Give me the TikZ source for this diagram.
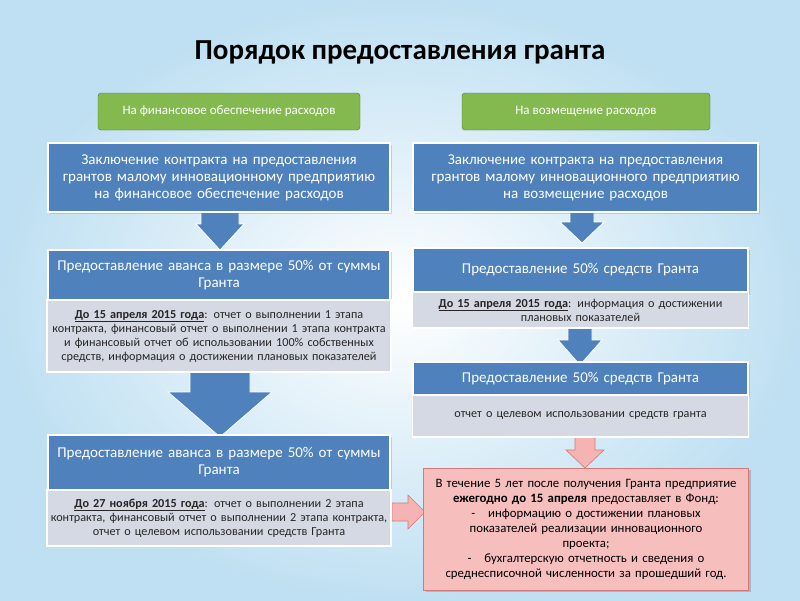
\documentclass[tikz,border=0pt]{standalone}
\usepackage{fontspec}
\setmainfont{Carlito}
\usetikzlibrary{shadows}
\definecolor{hblue}{HTML}{4F81BD}
\definecolor{hgray}{HTML}{D5D9E4}
\definecolor{gfill}{HTML}{83B94E}
\definecolor{gdraw}{HTML}{4E7A2A}
\definecolor{pfill}{HTML}{F6B3B3}
\definecolor{pdraw}{HTML}{D47878}
\definecolor{bg}{HTML}{BFE0F2}
\tikzset{
 hdr/.style={fill=hblue,draw=white,line width=1.2pt,text=white,align=center,font=\fontsize{15}{17}\selectfont,inner sep=2pt,drop shadow={opacity=0.3}},
 gry/.style={fill=hgray,draw=white,line width=1.2pt,text=black!85,align=center,font=\fontsize{12.2}{14}\selectfont,inner sep=2pt},
 grn/.style={fill=gfill,draw=gdraw,rounded corners=3pt,text=white,font=\fontsize{13}{14}\selectfont},
 barr/.style={fill=hblue,draw=white,line width=0.8pt},
 parr/.style={fill=pfill,draw=pdraw,line width=0.6pt}
}
\begin{document}
\begin{tikzpicture}[x=1pt,y=-1pt]
\shade[inner color=white,outer color=bg] (0,0) rectangle (800,600);
\useasboundingbox (0,0) rectangle (800,600);
\node[font=\fontsize{29}{31}\selectfont\bfseries] (title) at (400,52) {Порядок предоставления гранта};
\node[grn,minimum width=262pt,minimum height=37pt] (g1) at (229,111.5) {На финансовое обеспечение расходов};
\node[grn,minimum width=248pt,minimum height=37pt] (g2) at (586,111.5) {На возмещение расходов};
% arrows (drawn first, behind boxes)
\draw[barr] (201,208) -- (239,208) -- (239,224) -- (244,224) -- (220,250) -- (196,224) -- (201,224) -- cycle;
\draw[barr] (190,370) -- (250,370) -- (250,392) -- (272,392) -- (220,437) -- (168,392) -- (190,392) -- cycle;
\draw[barr] (570,210) -- (594,210) -- (594,222) -- (604,222) -- (582,243) -- (560,222) -- (570,222) -- cycle;
\draw[barr] (568,326) -- (592,326) -- (592,340) -- (602,340) -- (580,365) -- (558,340) -- (568,340) -- cycle;
\draw[parr] (575,437) -- (595,437) -- (595,450) -- (604,450) -- (585,468) -- (566,450) -- (575,450) -- cycle;
\draw[parr] (392,503) -- (408,503) -- (408,495) -- (425,512) -- (408,529) -- (408,521) -- (392,521) -- cycle;
% left column
\node[hdr,minimum width=342pt,minimum height=69pt,text width=334pt] (l1) at (219,177.5) {Заключение контракта на предоставления\\грантов малому инновационному предприятию\\на финансовое обеспечение расходов};
\node[hdr,minimum width=342pt,minimum height=50pt,text width=338pt] (l2) at (219,275) {Предоставление аванса в размере 50\% от суммы\\Гранта};
\node[gry,minimum width=342pt,minimum height=72pt,text width=340pt] (l2b) at (219,336) {\underline{\textbf{До 15 апреля 2015 года}}: отчет о выполнении 1 этапа\\контракта, финансовый отчет о выполнении 1 этапа контракта\\и финансовый отчет об использовании 100\%  собственных\\средств, информация о достижении плановых показателей};
\node[hdr,minimum width=342pt,minimum height=55pt,text width=338pt] (l3) at (219,462.5) {Предоставление аванса в размере 50\% от суммы\\Гранта};
\node[gry,minimum width=342pt,minimum height=56pt,text width=340pt] (l3b) at (219,518) {\underline{\textbf{До 27 ноября 2015 года}}: отчет о выполнении 2 этапа\\контракта, финансовый отчет о выполнении 2 этапа контракта,\\отчет о целевом использовании средств Гранта};
% right column
\node[hdr,minimum width=345pt,minimum height=69pt,text width=338pt] (r1) at (585.5,177.5) {Заключение контракта на предоставления\\грантов малому инновационного предприятию\\на возмещение расходов};
\node[hdr,minimum width=335pt,minimum height=44pt,text width=330pt] (r2) at (580.5,270) {Предоставление  50\% средств Гранта};
\node[gry,minimum width=335pt,minimum height=36pt,text width=332pt] (r2b) at (580.5,310) {\underline{\textbf{До 15 апреля 2015 года}}: информация о достижении\\плановых показателей};
\node[hdr,minimum width=335pt,minimum height=33pt,text width=330pt] (r3) at (580.5,378.5) {Предоставление  50\% средств Гранта};
\node[gry,minimum width=335pt,minimum height=42pt,text width=332pt] (r3b) at (580.5,416) {отчет о целевом использовании средств гранта};
\node[fill=pfill!85,draw=pdraw,line width=0.6pt,minimum width=322pt,minimum height=122pt,text width=318pt,align=center,font=\fontsize{12.8}{15}\selectfont,drop shadow={opacity=0.4}] (pb) at (586,529) {В течение 5 лет после получения Гранта предприятие\\\textbf{ежегодно до 15 апреля} предоставляет в Фонд:\\-\quad информацию о достижении плановых\\показателей реализации инновационного\\проекта;\\-\quad бухгалтерскую отчетность и сведения о\\среднесписочной численности за прошедший год.};
\end{tikzpicture}
\end{document}
